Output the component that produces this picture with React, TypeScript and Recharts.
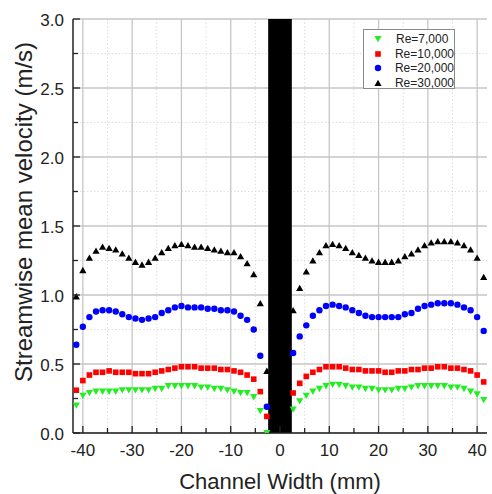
import React from 'react';
import { ScatterChart, Scatter, XAxis, YAxis, CartesianGrid, ReferenceArea, Legend } from 'recharts';

// Channel positions (mm)
const leftX = [-41.33, -40.0, -38.67, -37.33, -36.0, -34.67, -33.33, -32.0, -30.67, -29.33, -28.0, -26.67, -25.33, -24.0, -22.67, -21.33, -20.0, -18.67, -17.33, -16.0, -14.67, -13.33, -12.0, -10.67, -9.33, -8.0, -6.67, -5.33, -4.0, -2.67];
const rightX = [2.67, 4.0, 5.33, 6.67, 8.0, 9.33, 10.67, 12.0, 13.33, 14.67, 16.0, 17.33, 18.67, 20.0, 21.33, 22.67, 24.0, 25.33, 26.67, 28.0, 29.33, 30.67, 32.0, 33.33, 34.67, 36.0, 37.33, 38.67, 40.0, 41.33];

// Streamwise mean velocity (m/s)
const re7Left = [0.2, 0.27, 0.29, 0.3, 0.3, 0.3, 0.3, 0.31, 0.31, 0.31, 0.31, 0.31, 0.32, 0.32, 0.34, 0.34, 0.34, 0.34, 0.34, 0.33, 0.33, 0.32, 0.32, 0.31, 0.3, 0.29, 0.29, 0.26, 0.16, 0.0];
const re7Right = [0.17, 0.23, 0.27, 0.3, 0.32, 0.34, 0.35, 0.35, 0.34, 0.33, 0.33, 0.32, 0.32, 0.31, 0.31, 0.31, 0.32, 0.32, 0.33, 0.34, 0.34, 0.34, 0.34, 0.34, 0.33, 0.33, 0.32, 0.3, 0.28, 0.24];
const re10Left = [0.31, 0.38, 0.42, 0.44, 0.44, 0.45, 0.44, 0.44, 0.44, 0.43, 0.43, 0.43, 0.44, 0.45, 0.46, 0.47, 0.48, 0.48, 0.48, 0.47, 0.47, 0.47, 0.46, 0.46, 0.45, 0.44, 0.42, 0.39, 0.3, 0.12];
const re10Right = [0.29, 0.36, 0.41, 0.44, 0.46, 0.48, 0.48, 0.48, 0.47, 0.46, 0.46, 0.45, 0.45, 0.45, 0.44, 0.44, 0.45, 0.45, 0.46, 0.46, 0.47, 0.47, 0.48, 0.48, 0.47, 0.47, 0.46, 0.45, 0.42, 0.37];
const re20Left = [0.64, 0.77, 0.84, 0.88, 0.89, 0.89, 0.88, 0.86, 0.84, 0.83, 0.82, 0.83, 0.84, 0.87, 0.89, 0.91, 0.92, 0.91, 0.91, 0.91, 0.9, 0.9, 0.89, 0.89, 0.88, 0.85, 0.82, 0.75, 0.56, 0.19];
const re20Right = [0.58, 0.7, 0.78, 0.85, 0.89, 0.92, 0.93, 0.92, 0.91, 0.89, 0.87, 0.85, 0.84, 0.84, 0.84, 0.84, 0.84, 0.86, 0.87, 0.9, 0.92, 0.93, 0.94, 0.94, 0.94, 0.93, 0.91, 0.89, 0.84, 0.74];
const re30Left = [0.99, 1.18, 1.27, 1.32, 1.35, 1.34, 1.33, 1.3, 1.27, 1.24, 1.22, 1.24, 1.27, 1.31, 1.34, 1.36, 1.37, 1.36, 1.35, 1.35, 1.34, 1.33, 1.32, 1.31, 1.31, 1.28, 1.23, 1.15, 0.94, 0.45];
const re30Right = [0.89, 1.05, 1.17, 1.25, 1.31, 1.36, 1.37, 1.36, 1.34, 1.31, 1.29, 1.27, 1.25, 1.24, 1.24, 1.24, 1.25, 1.28, 1.3, 1.33, 1.36, 1.38, 1.39, 1.39, 1.39, 1.38, 1.36, 1.33, 1.27, 1.13];

const seriesNames = ['Re=7,000', 'Re=10,000', 'Re=20,000', 'Re=30,000'];

// Ticks
const xMajorTicks = [-40, -30, -20, -10, 0, 10, 20, 30, 40];
const xMinorTicks = [-35, -25, -15, -5, 5, 15, 25, 35];
const yMajorTicks = [0, 0.5, 1.0, 1.5, 2.0, 2.5, 3.0];
const yMinorTicks = [0.25, 0.75, 1.25, 1.75, 2.25, 2.75];

// Blocked region in channel center (mm)
const blockStart = -2.4;
const blockEnd = 2.4;

const FONT = '"Liberation Sans", Arial, sans-serif';
const TEXT = '#222';

const allX = [...leftX, ...rightX];
const toRows = (l: number[], r: number[]) => [...l, ...r].map((y, i) => ({ x: allX[i], y }));

const TriDown = (p: any) => {
  const { cx, cy, fill } = p;
  if (cx == null || cy == null) return null;
  return <polygon points={`${cx - 3.6},${cy - 3} ${cx + 3.6},${cy - 3} ${cx},${cy + 3.3}`} fill={fill} />;
};
const TriUp = (p: any) => {
  const { cx, cy, fill } = p;
  if (cx == null || cy == null) return null;
  return <polygon points={`${cx - 3.6},${cy + 3} ${cx + 3.6},${cy + 3} ${cx},${cy - 3.3}`} fill={fill} />;
};
const Square = (p: any) => {
  const { cx, cy, fill } = p;
  if (cx == null || cy == null) return null;
  return <rect x={cx - 2.8} y={cy - 2.8} width={5.6} height={5.6} fill={fill} />;
};
const Dot = (p: any) => {
  const { cx, cy, fill } = p;
  if (cx == null || cy == null) return null;
  return <circle cx={cx} cy={cy} r={3.2} fill={fill} />;
};

const series = [
  { name: seriesNames[0], data: toRows(re7Left, re7Right), color: '#22ee22', Shape: TriDown },
  { name: seriesNames[1], data: toRows(re10Left, re10Right), color: '#ff0000', Shape: Square },
  { name: seriesNames[2], data: toRows(re20Left, re20Right), color: '#0000ff', Shape: Dot },
  { name: seriesNames[3], data: toRows(re30Left, re30Right), color: '#000000', Shape: TriUp },
];

const XTick = (p: any) => {
  const { x, y, payload } = p;
  const v = payload.value;
  const major = xMajorTicks.includes(v);
  return (
    <g>
      <line x1={x} x2={x} y1={y} y2={y - (major ? 7 : 5)} stroke="#222" strokeWidth={1.3} />
      {major && (
        <text x={x} y={y + 23} textAnchor="middle" fontSize={17} fill={TEXT} fontFamily={FONT}>
          {String(v)}
        </text>
      )}
    </g>
  );
};

const YTick = (p: any) => {
  const { x, y, payload } = p;
  const v = payload.value;
  const major = yMajorTicks.some((t) => Math.abs(t - v) < 1e-9);
  return (
    <g>
      <line x1={x} x2={x + (major ? 7 : 5)} y1={y} y2={y} stroke="#222" strokeWidth={1.3} />
      {major && (
        <text x={x - 9} y={y + 7} textAnchor="end" fontSize={17} fill={TEXT} fontFamily={FONT}>
          {v.toFixed(1)}
        </text>
      )}
    </g>
  );
};

const YTitle = (p: any) => {
  const vb = p.viewBox || { x: 0, y: 0, width: 0, height: 0 };
  const cx = vb.x + vb.width / 2 - 12.5;
  const cy = vb.y + vb.height / 2 - 14;
  return (
    <text
      x={cx}
      y={cy + 8}
      transform={`rotate(-90 ${cx} ${cy})`}
      textAnchor="middle"
      fontSize={24}
      fill={TEXT}
      fontFamily={FONT}
    >
      Streamwise mean velocity (m/s)
    </text>
  );
};

const LegendBox = () => (
  <div
    style={{
      width: 92,
      height: 60,
      border: '1px solid #8a8a8a',
      background: '#fff',
      fontFamily: FONT,
      fontSize: 12,
      color: TEXT,
      paddingTop: 2,
      boxSizing: 'border-box',
    }}
  >
    {series.map((s) => {
      const S = s.Shape;
      return (
        <div key={s.name} style={{ height: 14.5, display: 'flex', alignItems: 'center' }}>
          <svg width={32} height={14} style={{ display: 'block' }}>
            <S cx={14} cy={7} fill={s.color} />
          </svg>
          <span style={{ lineHeight: '14px' }}>{s.name}</span>
        </div>
      );
    })}
  </div>
);

const allXTicks = [...xMajorTicks, ...xMinorTicks].sort((a, b) => a - b);
const allYTicks = [...yMajorTicks, ...yMinorTicks].sort((a, b) => a - b);

export default function App() {
  return (
    <div style={{ position: 'absolute', left: 0, top: 0, fontFamily: FONT }}>
      <ScatterChart width={492} height={494} margin={{ top: 19, right: 5, bottom: 0, left: 0 }}>
        <CartesianGrid
          stroke="#dedede"
          strokeDasharray="1.5 2"
          verticalValues={xMinorTicks}
          horizontalValues={yMinorTicks}
        />
        <CartesianGrid stroke="#c6c6c6" strokeWidth={1.3} verticalValues={xMajorTicks} horizontalValues={yMajorTicks} />
        <XAxis
          dataKey="x"
          type="number"
          domain={[-42, 42]}
          ticks={allXTicks}
          interval={0}
          allowDataOverflow
          tickSize={0}
          tickMargin={0}
          tickLine={false}
          tick={<XTick />}
          height={61}
          axisLine={{ stroke: '#222', strokeWidth: 1.5 }}
          label={{ value: 'Channel Width (mm)', position: 'insideBottom', offset: 5, fontSize: 22, fill: TEXT, fontFamily: FONT }}
        />
        <XAxis
          xAxisId="top"
          orientation="top"
          type="number"
          domain={[-42, 42]}
          height={0}
          tick={false}
          tickLine={false}
          axisLine={{ stroke: '#222', strokeWidth: 1.5 }}
        />
        <YAxis
          dataKey="y"
          type="number"
          domain={[0, 3]}
          ticks={allYTicks}
          interval={0}
          allowDataOverflow
          tickSize={0}
          tickMargin={0}
          tickLine={false}
          tick={<YTick />}
          width={73}
          axisLine={{ stroke: '#222', strokeWidth: 1.5 }}
          label={{ content: YTitle }}
        />
        <YAxis
          yAxisId="right"
          orientation="right"
          type="number"
          domain={[0, 3]}
          width={0}
          tick={false}
          tickLine={false}
          axisLine={{ stroke: '#222', strokeWidth: 1.5 }}
        />
        {series.map((s) => (
          <Scatter
            key={s.name}
            name={s.name}
            data={s.data}
            fill={s.color}
            shape={s.Shape}
            isAnimationActive={false}
          />
        ))}
        <ReferenceArea x1={blockStart} x2={blockEnd} y1={0} y2={3} fill="#000" fillOpacity={1} stroke="none" ifOverflow="hidden" />
        <Legend
          layout="vertical"
          align="center"
          verticalAlign="middle"
          content={<LegendBox />}
          wrapperStyle={{ position: 'absolute', left: 363, top: 29, width: 94, height: 62 }}
        />
      </ScatterChart>
    </div>
  );
}
